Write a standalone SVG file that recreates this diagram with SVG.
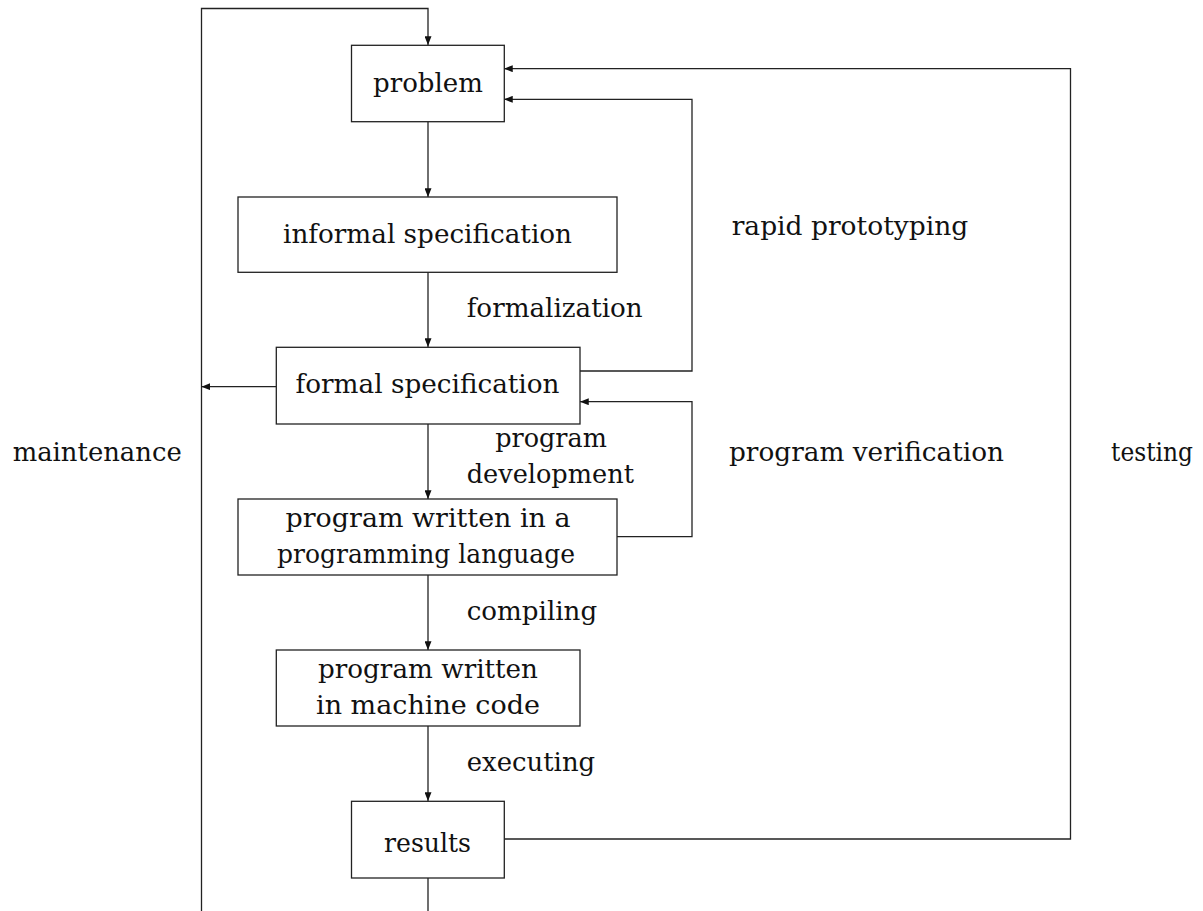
<svg xmlns="http://www.w3.org/2000/svg" width="1203" height="911" viewBox="0 0 1203 911">
  <style>
    .box { fill: #fff; stroke: #222; stroke-width: 1.3; }
    .wire { fill: none; stroke: #222; stroke-width: 1.3; }
    .t { font-family: "DejaVu Serif", "Liberation Serif", serif; font-size: 26px; fill: #111; }
    .c { text-anchor: middle; }
  </style>
  <defs>
    <marker id="arrow" viewBox="0 0 10 8" refX="10" refY="4" markerWidth="9" markerHeight="7" markerUnits="userSpaceOnUse" orient="auto">
      <path d="M0,0 L10,4 L0,8 Z" fill="#111"/>
    </marker>
  </defs>

  <g id="connectors">
    <!-- main flow down the centre -->
    <line class="wire" x1="428" y1="122" x2="428" y2="197" marker-end="url(#arrow)"/>
    <line class="wire" x1="428" y1="272" x2="428" y2="347" marker-end="url(#arrow)"/>
    <line class="wire" x1="428" y1="424" x2="428" y2="499" marker-end="url(#arrow)"/>
    <line class="wire" x1="428" y1="575" x2="428" y2="650" marker-end="url(#arrow)"/>
    <line class="wire" x1="428" y1="726" x2="428" y2="801" marker-end="url(#arrow)"/>
    <!-- maintenance loop -->
    <path class="wire" d="M428,878 V930 H201.5 V8.5 H428 V45" marker-end="url(#arrow)"/>
    <line class="wire" x1="276" y1="386.7" x2="201.5" y2="386.7" marker-end="url(#arrow)"/>
    <!-- rapid prototyping loop -->
    <path class="wire" d="M580,371 H692 V99.3 H504" marker-end="url(#arrow)"/>
    <!-- program verification loop -->
    <path class="wire" d="M617,536.7 H692 V401.7 H580" marker-end="url(#arrow)"/>
    <!-- testing loop -->
    <path class="wire" d="M504,839 H1070.5 V68.7 H504" marker-end="url(#arrow)"/>
  </g>

  <g id="problem">
    <rect class="box" x="351.5" y="45.3" width="152.8" height="76.4"/>
    <text class="t c" x="428" y="91.7" textLength="110" lengthAdjust="spacingAndGlyphs">problem</text>
  </g>
  <g id="informal-specification">
    <rect class="box" x="238" y="197" width="379" height="75.3"/>
    <text class="t c" x="427.5" y="243.3" textLength="289" lengthAdjust="spacingAndGlyphs">informal specification</text>
  </g>
  <g id="formal-specification">
    <rect class="box" x="276.3" y="347.3" width="303.7" height="76.7"/>
    <text class="t c" x="427.5" y="393.3" textLength="264" lengthAdjust="spacingAndGlyphs">formal specification</text>
  </g>
  <g id="program-source">
    <rect class="box" x="238" y="499" width="379" height="76"/>
    <text class="t c" x="428" y="526.7" textLength="285" lengthAdjust="spacingAndGlyphs">program written in a</text>
    <text class="t c" x="426" y="563.3" textLength="298" lengthAdjust="spacingAndGlyphs">programming language</text>
  </g>
  <g id="program-machine-code">
    <rect class="box" x="276.3" y="650" width="303.7" height="76"/>
    <text class="t c" x="428" y="677.7" textLength="220" lengthAdjust="spacingAndGlyphs">program written</text>
    <text class="t c" x="428" y="714.3" textLength="224" lengthAdjust="spacingAndGlyphs">in machine code</text>
  </g>
  <g id="results">
    <rect class="box" x="351.5" y="801.3" width="152.8" height="76.7"/>
    <text class="t c" x="427.5" y="851.7" textLength="87" lengthAdjust="spacingAndGlyphs">results</text>
  </g>

  <g id="labels">
    <text class="t" x="466.7" y="316.7" textLength="176" lengthAdjust="spacingAndGlyphs">formalization</text>
    <text class="t" x="731.7" y="235" textLength="236.6" lengthAdjust="spacingAndGlyphs">rapid prototyping</text>
    <text class="t" x="12.7" y="460.7" textLength="169" lengthAdjust="spacingAndGlyphs">maintenance</text>
    <text class="t" x="729" y="460.7" textLength="275" lengthAdjust="spacingAndGlyphs">program verification</text>
    <text class="t" x="1111" y="460.7" textLength="82" lengthAdjust="spacingAndGlyphs">testing</text>
    <text class="t c" x="551" y="446.7" textLength="111.7" lengthAdjust="spacingAndGlyphs">program</text>
    <text class="t c" x="550.3" y="483.3" textLength="167.3" lengthAdjust="spacingAndGlyphs">development</text>
    <text class="t" x="466.7" y="619.7" textLength="130.5" lengthAdjust="spacingAndGlyphs">compiling</text>
    <text class="t" x="466.7" y="770.7" textLength="128.5" lengthAdjust="spacingAndGlyphs">executing</text>
  </g>
</svg>
